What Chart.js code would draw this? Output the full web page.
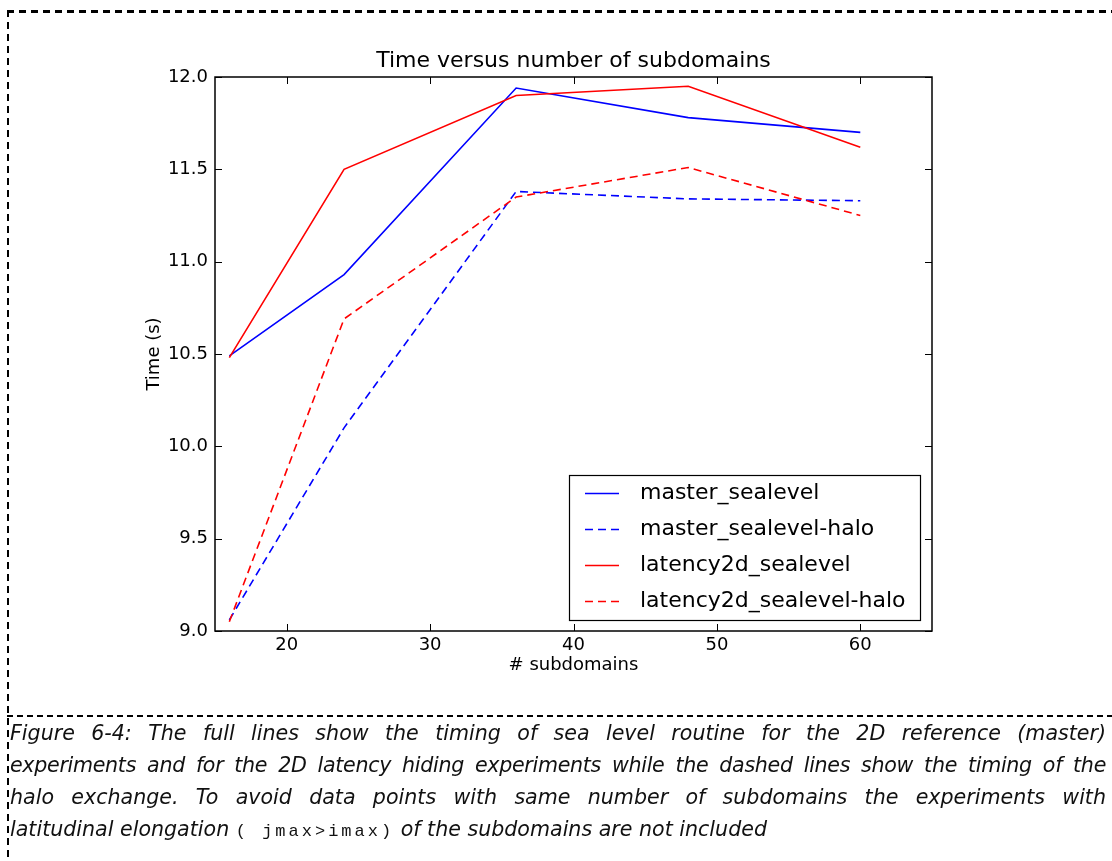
<!DOCTYPE html>
<html>
<head>
<meta charset="utf-8">
<script src="https://cdn.jsdelivr.net/npm/chart.js@4/dist/chart.umd.min.js"></script>
<style>
  body { margin: 0; background: #fff; width: 1112px; height: 861px; overflow: hidden; position: relative; }
  #plot { position: absolute; left: 0; top: 0; width: 1112px; height: 716px; }
  .dash-top { position: absolute; left: 7px; top: 10px; width: 1105px; height: 3px;
    background: repeating-linear-gradient(to right, #000 0 7px, transparent 7px 12px); }
  .dash-left { position: absolute; left: 7px; top: 10px; width: 2px; height: 851px;
    background: repeating-linear-gradient(to bottom, #000 0 7px, transparent 7px 12px); }
  .dash-sep { position: absolute; left: 7px; top: 715px; width: 1105px; height: 2px;
    background: repeating-linear-gradient(to right, #000 0 6px, transparent 6px 10px); }
  .caption { position: absolute; left: 10px; top: 717px; width: 1096px;
    font-family: "DejaVu Sans", sans-serif; font-style: italic; font-size: 20.6px;
    line-height: 32px; color: #111; }
  .caption .j { text-align: justify; text-align-last: justify; white-space: nowrap; }
  .caption .tight { letter-spacing: -0.3px; }
  .caption code { font-family: "Liberation Mono", "DejaVu Sans Mono", monospace; font-style: normal;
    font-size: 17px; letter-spacing: 3px; }
</style>
</head>
<body>
<div id="plot"><canvas id="grafico" width="1112" height="716"></canvas></div>
<div class="dash-top"></div>
<div class="dash-left"></div>
<div class="dash-sep"></div>
<div class="caption">
  <div class="j">Figure 6-4: The full lines show the timing of sea level routine for the 2D reference (master)</div>
  <div class="j tight">experiments and for the 2D latency hiding experiments while the dashed lines show the timing of the</div>
  <div class="j">halo exchange. To avoid data points with same number of subdomains the experiments with</div>
  <div>latitudinal elongation <code>( jmax&gt;imax)</code> of the subdomains are not included</div>
</div>

<script>
// Número de subdominios y tiempos medidos (s)
const subdomains = [16, 24, 36, 48, 60];
const masterSealevel = [10.49, 10.93, 11.94, 11.78, 11.70];
const masterHalo = [9.06, 10.10, 11.38, 11.34, 11.33];
const latencySealevel = [10.48, 11.50, 11.90, 11.95, 11.62];
const latencyHalo = [9.05, 10.69, 11.35, 11.51, 11.25];

const seriesNames = ['master_sealevel', 'master_sealevel-halo', 'latency2d_sealevel', 'latency2d_sealevel-halo'];
const xTicks = [20, 30, 40, 50, 60];
const yTicks = [9.0, 9.5, 10.0, 10.5, 11.0, 11.5, 12.0];

const FONT = '"DejaVu Sans", sans-serif';
const DASH = [8, 5];

function puntos(valores) {
  return subdomains.map((x, i) => ({ x: x, y: valores[i] }));
}

function serie(nombre, valores, color, dash, orden) {
  return {
    label: nombre,
    data: puntos(valores),
    borderColor: color,
    backgroundColor: color,
    borderWidth: 1.6,
    borderDash: dash,
    pointRadius: 0,
    tension: 0,
    fill: false,
    order: orden
  };
}

// Marco, marcas hacia dentro en los cuatro lados y leyenda dentro del área
const marcoPlugin = {
  id: 'marco',
  afterDraw(chart) {
    const { ctx, chartArea: a, scales } = chart;
    const len = 7;
    ctx.save();
    ctx.strokeStyle = '#000';
    ctx.lineWidth = 1;
    ctx.beginPath();
    xTicks.forEach(v => {
      const px = Math.round(scales.x.getPixelForValue(v)) + 0.5;
      ctx.moveTo(px, a.bottom); ctx.lineTo(px, a.bottom - len);
      ctx.moveTo(px, a.top); ctx.lineTo(px, a.top + len);
    });
    yTicks.forEach(v => {
      const py = Math.round(scales.y.getPixelForValue(v)) + 0.5;
      ctx.moveTo(a.left, py); ctx.lineTo(a.left + len, py);
      ctx.moveTo(a.right, py); ctx.lineTo(a.right - len, py);
    });
    ctx.stroke();
    ctx.lineWidth = 1.5;
    ctx.strokeRect(a.left, a.top, a.right - a.left, a.bottom - a.top);

    // leyenda
    const w = 351, h = 145;
    const bx = a.right - 12 - w, by = a.bottom - 11 - h;
    ctx.fillStyle = '#fff';
    ctx.fillRect(bx, by, w, h);
    ctx.lineWidth = 1.2;
    ctx.strokeRect(bx + 0.5, by + 0.5, w, h);
    ctx.font = '22px ' + FONT;
    ctx.textBaseline = 'middle';
    chart.data.datasets.forEach((ds, i) => {
      const y = by + 18 + i * 36;
      ctx.strokeStyle = ds.borderColor;
      ctx.lineWidth = ds.borderWidth;
      ctx.setLineDash(ds.borderDash);
      ctx.beginPath();
      ctx.moveTo(bx + 16, y + 0.5);
      ctx.lineTo(bx + 50, y + 0.5);
      ctx.stroke();
      ctx.setLineDash([]);
      ctx.fillStyle = '#000';
      ctx.fillText(ds.label, bx + 71, y);
    });
    ctx.restore();
  }
};

const ctx = document.getElementById('grafico').getContext('2d');
const grafico = new Chart(ctx, {
  type: 'line',
  data: {
    datasets: [
      serie(seriesNames[0], masterSealevel, '#0000ff', [], 4),
      serie(seriesNames[1], masterHalo, '#0000ff', DASH, 3),
      serie(seriesNames[2], latencySealevel, '#ff0000', [], 2),
      serie(seriesNames[3], latencyHalo, '#ff0000', DASH, 1)
    ]
  },
  options: {
    responsive: false,
    animation: false,
    layout: { padding: { top: 50, left: 0, right: 180, bottom: 0 } },
    plugins: {
      legend: { display: false },
      tooltip: { enabled: false },
      title: {
        display: true,
        text: 'Time versus number of subdomains',
        fullSize: false,
        color: '#000',
        font: { family: FONT, size: 22, weight: 'normal', lineHeight: 1 },
        padding: { top: 0, bottom: 5 }
      }
    },
    scales: {
      x: {
        type: 'linear',
        min: 15,
        max: 65,
        afterFit(scale) { scale.height = 85; },
        afterBuildTicks(scale) { scale.ticks = xTicks.map(v => ({ value: v })); },
        grid: { display: false, drawTicks: false },
        border: { display: false },
        ticks: { color: '#000', padding: 4, maxRotation: 0, font: { family: FONT, size: 18 } },
        title: {
          display: true,
          text: '# subdomains',
          color: '#000',
          font: { family: FONT, size: 18 },
          padding: { top: 0, bottom: 40 }
        }
      },
      y: {
        min: 9.0,
        max: 12.0,
        afterFit(scale) { scale.width = 215; },
        afterBuildTicks(scale) { scale.ticks = yTicks.map(v => ({ value: v })); },
        grid: { display: false, drawTicks: false },
        border: { display: false },
        ticks: {
          color: '#000',
          padding: 7,
          font: { family: FONT, size: 18 },
          callback: v => v.toFixed(1)
        },
        title: {
          display: true,
          text: 'Time (s)',
          color: '#000',
          font: { family: FONT, size: 18 },
          padding: { top: 144, bottom: 0 }
        }
      }
    }
  },
  plugins: [marcoPlugin]
});
</script>
</body>
</html>
